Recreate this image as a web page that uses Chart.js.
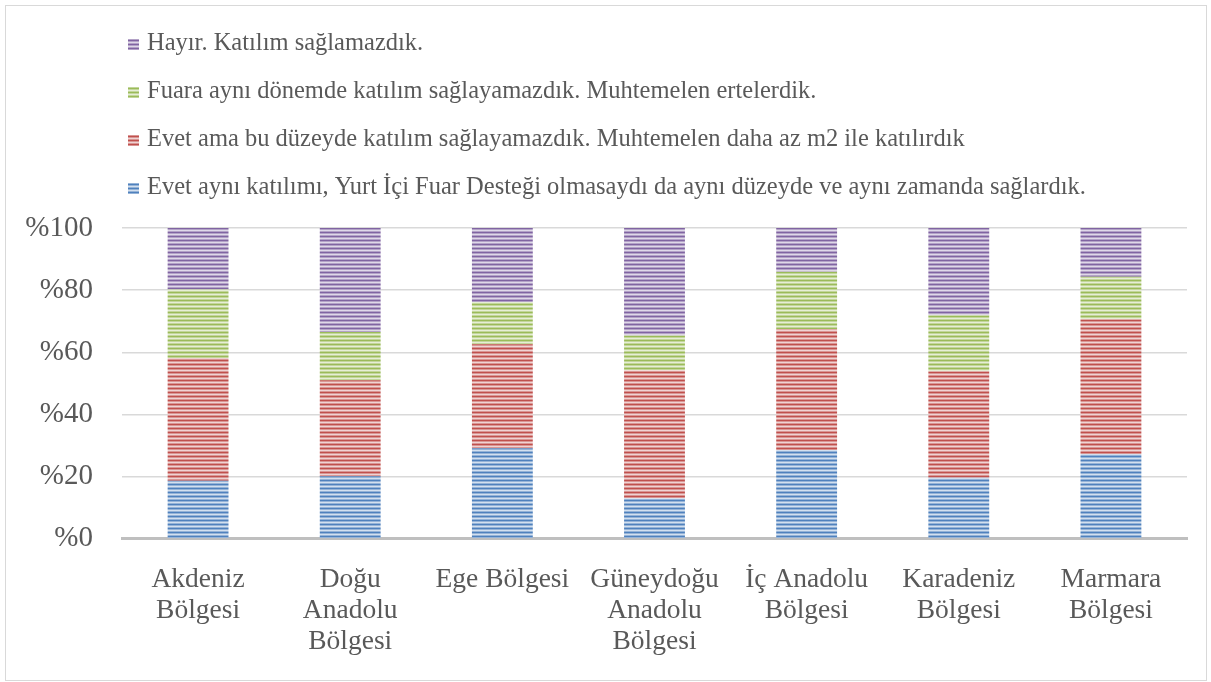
<!doctype html>
<html lang="tr">
  <head>
    <meta charset="utf-8">
    <title>Yurt İçi Fuar Desteği</title>
    <style>
      * {
        margin: 0;
        padding: 0;
      }
      body {
        background: #fff;
      }
      .frame {
        position: absolute;
        left: 5px;
        top: 5px;
        width: 1200px;
        height: 674px;
        border: 1.5px solid #d9d9d9;
      }
      #myChart {
        position: absolute;
        left: 0;
        top: 0;
      }
    </style>
  </head>
  <body>
    <div class="frame"></div>
    <canvas id="myChart" width="1211" height="682"></canvas>
    <script src="https://cdn.jsdelivr.net/npm/chart.js/dist/chart.umd.min.js"></script>
    <script>
    // data
    const regions = [
      ['Akdeniz', 'Bölgesi'],
      ['Doğu', 'Anadolu', 'Bölgesi'],
      'Ege Bölgesi',
      ['Güneydoğu', 'Anadolu', 'Bölgesi'],
      ['İç Anadolu', 'Bölgesi'],
      ['Karadeniz', 'Bölgesi'],
      ['Marmara', 'Bölgesi']
    ];
    const sameLevel = [18.7, 20.1, 29.1, 13.0, 28.6, 19.6, 27.3];
    const lessArea = [39.5, 30.9, 33.5, 41.2, 38.8, 34.3, 43.3];
    const postponed = [22.0, 15.5, 13.6, 11.2, 18.5, 18.0, 13.7];
    const notJoin = [19.8, 33.5, 23.8, 34.6, 14.1, 28.1, 15.7];
    const seriesNames = [
      'Evet aynı katılımı, Yurt İçi Fuar Desteği olmasaydı da aynı düzeyde ve aynı zamanda sağlardık.',
      'Evet ama bu düzeyde katılım sağlayamazdık. Muhtemelen daha az m2 ile katılırdık',
      'Fuara aynı dönemde katılım sağlayamazdık. Muhtemelen ertelerdik.',
      'Hayır. Katılım sağlamazdık.'
    ];
    const yTicks = [0, 20, 40, 60, 80, 100];

    const FONT = '"Liberation Serif", "DejaVu Serif", serif';
    const TEXT = '#595959';

    // striped fill like the original
    function stripes(r, g, b) {
      const c = document.createElement('canvas');
      c.width = 4;
      c.height = 4;
      const x = c.getContext('2d');
      const rows = [1, 0.6, 0.25, 0.6];
      rows.forEach((a, i) => {
        x.fillStyle = 'rgb(' + Math.round(255 - (255 - r) * a) + ',' +
          Math.round(255 - (255 - g) * a) + ',' + Math.round(255 - (255 - b) * a) + ')';
        x.fillRect(0, i, 4, 1);
      });
      return x.createPattern(c, 'repeat');
    }

    const fills = [
      stripes(79, 129, 189),
      stripes(192, 80, 77),
      stripes(155, 187, 89),
      stripes(128, 100, 162)
    ];
    const values = [sameLevel, lessArea, postponed, notJoin];

    const data = {
      labels: regions,
      datasets: values.map((v, i) => ({
        label: seriesNames[i],
        data: v,
        backgroundColor: fills[i],
        borderWidth: 0,
        barPercentage: 0.8,
        categoryPercentage: 0.5
      }))
    };

    // legend drawn in the top padding, last series first
    const topLegend = {
      id: 'topLegend',
      afterDraw(chart) {
        const ctx = chart.ctx;
        ctx.save();
        ctx.font = '24.5px ' + FONT;
        ctx.textBaseline = 'middle';
        const ds = chart.data.datasets.slice().reverse();
        ds.forEach((d, i) => {
          const y = 44 + i * 48;
          ctx.fillStyle = d.backgroundColor;
          ctx.fillRect(128, y - 5, 11, 11);
          ctx.fillStyle = TEXT;
          ctx.fillText(d.label, 147, y);
        });
        ctx.restore();
      }
    };

    const config = {
      type: 'bar',
      data,
      options: {
        responsive: false,
        animation: false,
        layout: {
          padding: { top: 228, right: 24, bottom: 8, left: 0 }
        },
        plugins: {
          legend: { display: false },
          tooltip: { enabled: false }
        },
        scales: {
          x: {
            stacked: true,
            grid: { display: false },
            border: { color: '#bfbfbf', width: 3 },
            ticks: {
              color: TEXT,
              font: { family: FONT, size: 27.5, lineHeight: 1.13 },
              maxRotation: 0,
              autoSkip: false,
              padding: 17
            }
          },
          y: {
            stacked: true,
            min: 0,
            max: 100,
            afterFit(scale) { scale.width = 122; },
            afterBuildTicks(scale) { scale.ticks = yTicks.map(v => ({ value: v })); },
            border: { display: false },
            grid: {
              color: '#d9d9d9',
              lineWidth: 1.5,
              drawTicks: false
            },
            ticks: {
              color: TEXT,
              font: { family: FONT, size: 29 },
              padding: 29,
              callback: v => '%' + v
            }
          }
        }
      },
      plugins: [topLegend]
    };

    const myChart = new Chart(document.getElementById('myChart'), config);
    </script>
  </body>
</html>
